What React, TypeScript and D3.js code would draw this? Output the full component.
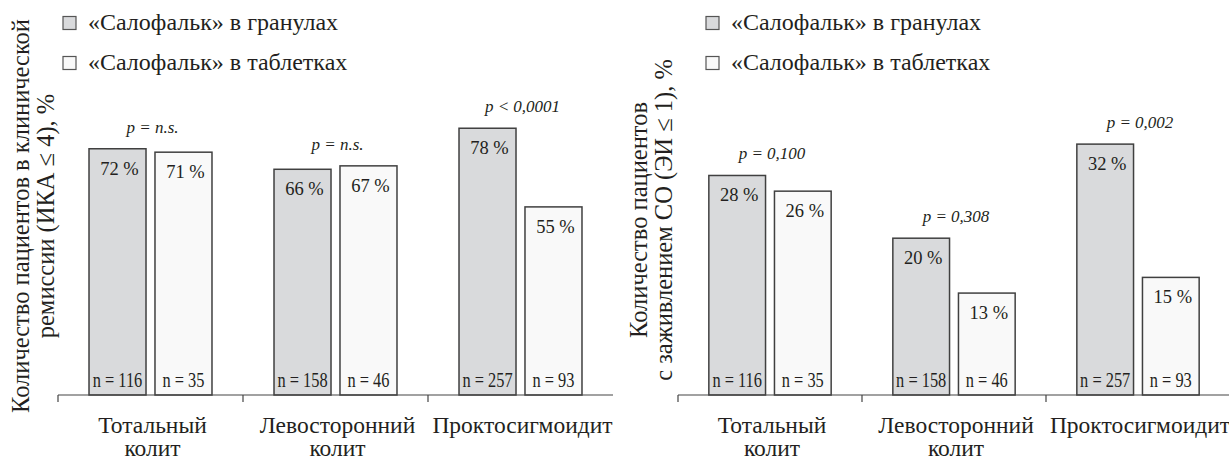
import React from "react";
import * as d3 from "d3";

const categories = ["Тотальный колит", "Левосторонний колит", "Проктосигмоидит"];
const categoryLines = [["Тотальный", "колит"], ["Левосторонний", "колит"], ["Проктосигмоидит"]];
const seriesNames = ["«Салофальк» в гранулах", "«Салофальк» в таблетках"];
const granulesN = [116, 158, 257];
const tabletsN = [35, 46, 93];

const remissionGranules = [72, 66, 78];
const remissionTablets = [71, 67, 55];
const remissionP = ["p = n.s.", "p = n.s.", "p < 0,0001"];

const healingGranules = [28, 20, 32];
const healingTablets = [26, 13, 15];
const healingP = ["p = 0,100", "p = 0,308", "p = 0,002"];

const FONT = '"Liberation Serif"';
const FILLS = ["#d9dadc", "#f9f9f9"];
const INK = "#231f20";

type STextProps = {
  x: number;
  y: number;
  sx?: number;
  size: number;
  anchor?: string;
  italic?: boolean;
  rotate?: boolean;
  children: React.ReactNode;
};

function SText({ x, y, sx = 1, size, anchor = "middle", italic = false, rotate = false, children }: STextProps) {
  return (
    <g transform={`translate(${x},${y})${rotate ? " rotate(-90)" : ""} scale(${sx},1)`}>
      <text
        x={0}
        y={0}
        textAnchor={anchor}
        fill={INK}
        style={{ fontFamily: FONT, fontSize: size, fontStyle: italic ? "italic" : "normal" }}
      >
        {children}
      </text>
    </g>
  );
}

type PanelProps = {
  x0: number;
  x1: number;
  yMax: number;
  yTopPx: number;
  granules: number[];
  tablets: number[];
  pLabels: string[];
  titleLines: string[];
  titleX: number[];
  titleY: number;
  legendX: number;
};

function Panel(props: PanelProps) {
  const { x0, x1, yMax, yTopPx, granules, tablets, pLabels, titleLines, titleX, titleY, legendX } = props;
  const baseY = 395;
  const xCat = d3.scaleBand<string>().domain(categories).range([x0, x1]).paddingInner(0).paddingOuter(0);
  const bw = xCat.bandwidth();
  const xSer = d3.scaleBand<string>().domain(seriesNames).range([0, bw]).paddingInner(0.136).paddingOuter(0.47);
  const y = d3.scaleLinear().domain([0, yMax]).range([baseY, yTopPx]);
  const values = [granules, tablets];
  const ns = [granulesN, tabletsN];
  const ticks = categories.map((c) => xCat(c) as number);

  return (
    <g>
      {seriesNames.map((s, i) => (
        <g key={s}>
          <rect
            x={legendX}
            y={16.5 + i * 40}
            width={13}
            height={13}
            fill={FILLS[i]}
            stroke="#555"
            strokeWidth={1.2}
          />
          <SText x={legendX + 25} y={30 + i * 40} size={24} anchor="start">
            {s}
          </SText>
        </g>
      ))}
      {titleLines.map((t, i) => (
        <SText key={t} x={titleX[i]} y={titleY} size={24.5} rotate>
          {t}
        </SText>
      ))}
      {categories.map((c, ci) => {
        const gx = xCat(c) as number;
        const top = Math.min(...values.map((v) => y(v[ci])));
        const cx = gx + bw / 2;
        return (
          <g key={c}>
            {seriesNames.map((s, si) => {
              const bx = gx + (xSer(s) as number);
              const w = xSer.bandwidth();
              const v = values[si][ci];
              return (
                <g key={s}>
                  <rect
                    x={bx}
                    y={y(v)}
                    width={w}
                    height={baseY - y(v)}
                    fill={FILLS[si]}
                    stroke="#404040"
                    strokeWidth={1.5}
                  />
                  <SText x={bx + w / 2 + 2} y={y(v) + 26} size={18.5}>
                    {`${v} %`}
                  </SText>
                  <SText x={bx + w / 2} y={baseY - 8} size={21} sx={0.78}>
                    {`n = ${ns[si][ci]}`}
                  </SText>
                </g>
              );
            })}
            <SText x={cx + 2} y={top - 16} size={17} italic>
              {pLabels[ci]}
            </SText>
            {categoryLines[ci].map((l, li) => (
              <SText key={l} x={cx + 2} y={433 + li * 23} size={23.5}>
                {l}
              </SText>
            ))}
          </g>
        );
      })}
      <line x1={x0} x2={x1} y1={baseY} y2={baseY} stroke="#444" strokeWidth={1.2} />
      {ticks.map((t) => (
        <line key={t} x1={t} x2={t} y1={baseY} y2={baseY + 7} stroke="#444" strokeWidth={1.2} />
      ))}
    </g>
  );
}

export default function App() {
  return (
    <svg
      width={1229}
      height={460}
      viewBox="0 0 1229 460"
      style={{ position: "absolute", left: 0, top: 0, background: "#fff" }}
    >
      <rect width={1229} height={460} fill="#fff" />
      <Panel
        x0={58}
        x1={613}
        yMax={100}
        yTopPx={53}
        granules={remissionGranules}
        tablets={remissionTablets}
        pLabels={remissionP}
        titleLines={["Количество пациентов в клинической", "ремиссии (ИКА ≤ 4), %"]}
        titleX={[29, 54]}
        titleY={216}
        legendX={63}
      />
      <Panel
        x0={678}
        x1={1230}
        yMax={40}
        yTopPx={81.4}
        granules={healingGranules}
        tablets={healingTablets}
        pLabels={healingP}
        titleLines={["Количество пациентов", "с заживлением СО (ЭИ ≤ 1), %"]}
        titleX={[647, 672]}
        titleY={220}
        legendX={706}
      />
    </svg>
  );
}
